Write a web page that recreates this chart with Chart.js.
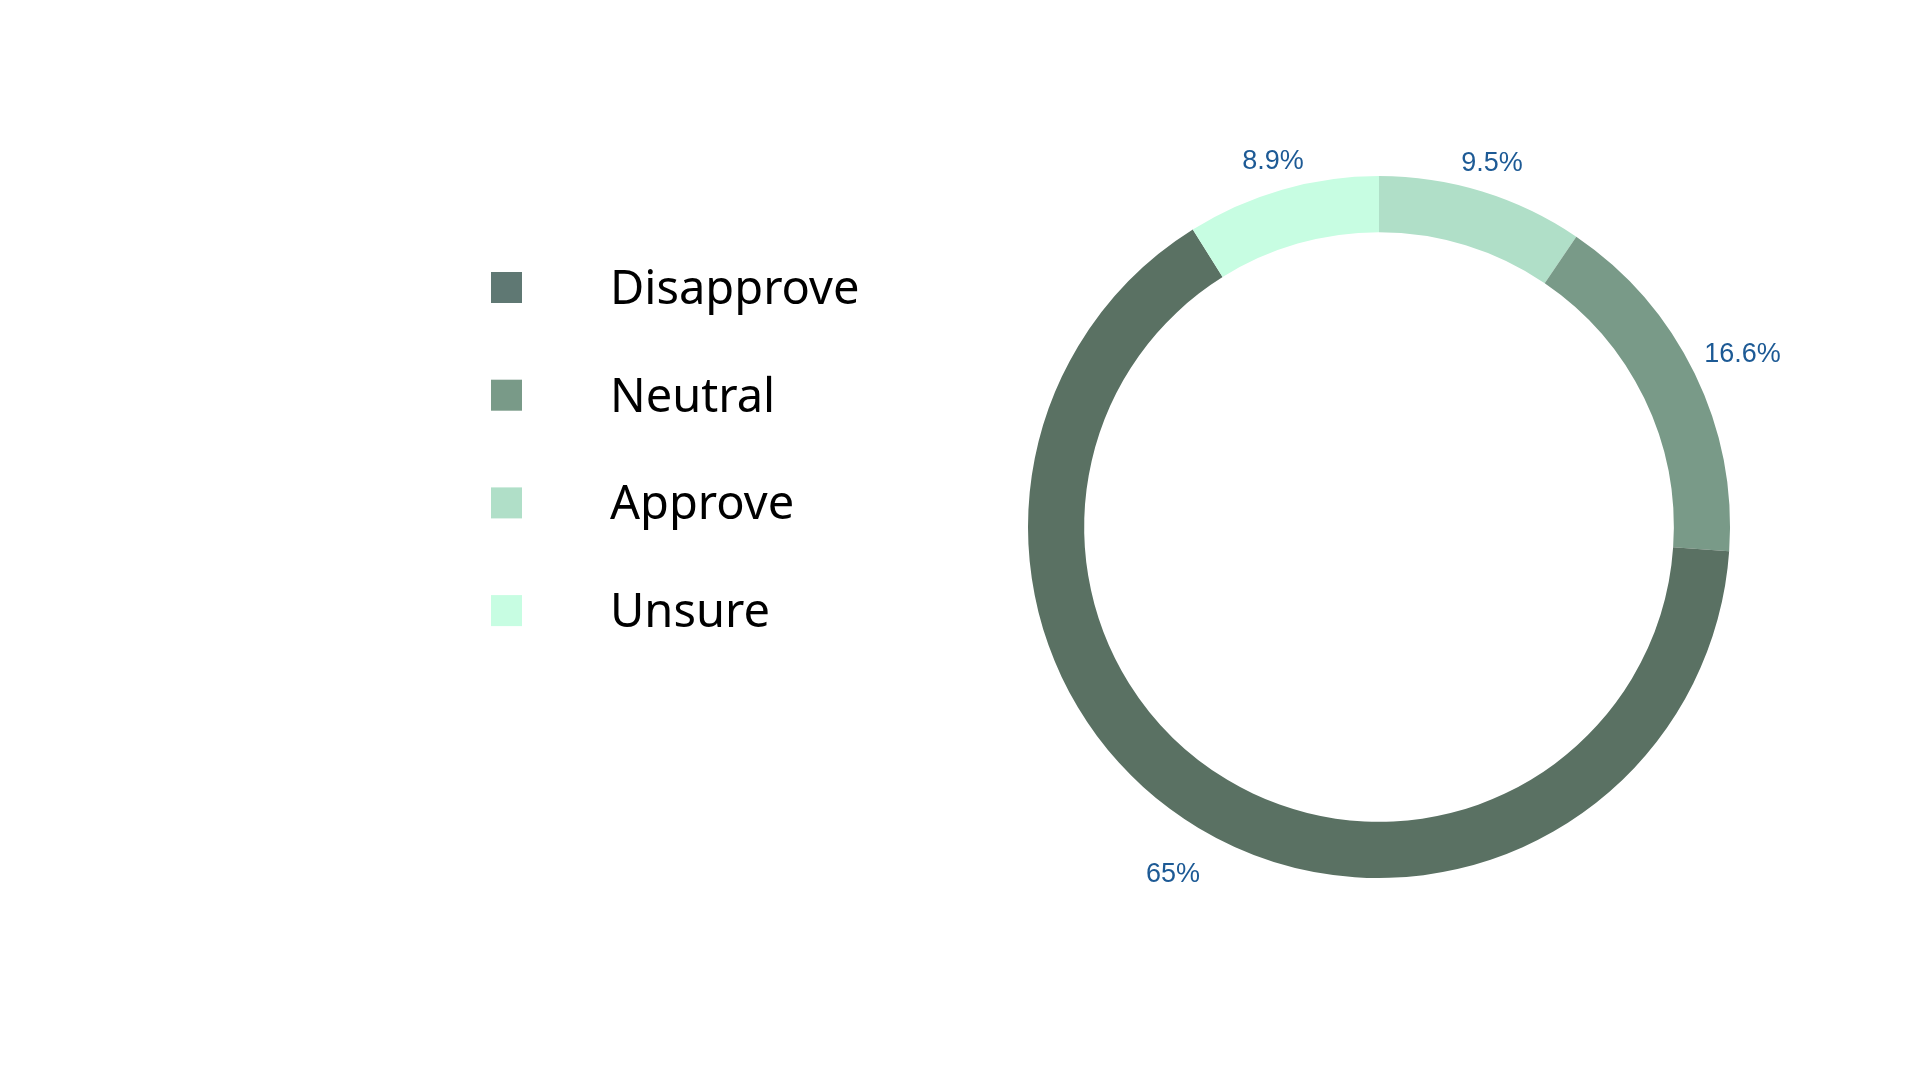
<!DOCTYPE html>
<html>
<head>
<meta charset="utf-8">
<script src="https://cdn.jsdelivr.net/npm/chart.js@4"></script>
<style>
  html, body { margin: 0; padding: 0; background: #fff; }
  #wrap { width: 1920px; height: 1080px; position: relative; }
</style>
</head>
<body>
<div id="wrap"><canvas id="donut"></canvas></div>
<script>
// slices, clockwise from 12 o'clock
const categories = ['Approve', 'Neutral', 'Disapprove', 'Unsure'];
const shares = [9.5, 16.6, 65, 8.9];
const sliceColors = ['#b0dfc8', '#799a88', '#5a7163', '#c7fde2'];
// order the legend lists them in
const legendOrder = ['Disapprove', 'Neutral', 'Approve', 'Unsure'];
const legendColors = { Disapprove: '#5f7873', Neutral: '#799a88', Approve: '#b0dfc8', Unsure: '#c7fde2' };

const labelColor = '#1d5a95';

// percent labels just outside the ring
const pctLabels = {
    id: 'pctLabels',
    afterDatasetsDraw(chart) {
        const ctx = chart.ctx;
        const meta = chart.getDatasetMeta(0);
        ctx.save();
        ctx.font = '27px "Liberation Sans", Arial, sans-serif';
        ctx.fillStyle = labelColor;
        ctx.textAlign = 'center';
        ctx.textBaseline = 'middle';
        meta.data.forEach((arc, i) => {
            const p = arc.getProps(['x', 'y', 'startAngle', 'endAngle', 'outerRadius'], true);
            const mid = (p.startAngle + p.endAngle) / 2;
            const ux = Math.cos(mid), uy = Math.sin(mid);
            const txt = chart.data.datasets[0].data[i] + '%';
            const w = ctx.measureText(txt).width;
            // labels below the centre sit a bit further out
            const r = p.outerRadius + 14 + Math.abs(ux) * w / 2 + Math.abs(uy) * 11 + Math.max(uy, 0) * 14;
            ctx.fillText(txt, p.x + ux * r, p.y + uy * r + 4);
        });
        ctx.restore();
    }
};

// legend on the left with a wide gap between swatch and text
const sideLegend = {
    id: 'sideLegend',
    afterDraw(chart) {
        const ctx = chart.ctx;
        ctx.save();
        ctx.font = '47px "Noto Sans", "Open Sans", sans-serif';
        ctx.textBaseline = 'middle';
        legendOrder.forEach((name, i) => {
            const cy = 287.5 + i * 107.7;
            ctx.fillStyle = legendColors[name];
            ctx.fillRect(491, cy - 15.5, 31, 31);
            ctx.fillStyle = '#000';
            ctx.fillText(name, 610, cy + 3);
        });
        ctx.restore();
    }
};

const donut = document.getElementById('donut');

let donutChart = new Chart(donut, {
    type: 'doughnut',
    data: {
        labels: categories,
        datasets: [{
            data: shares,
            backgroundColor: sliceColors,
            borderWidth: 0
        }]
    },
    options: {
        responsive: true,
        maintainAspectRatio: false,
        animation: false,
        cutout: '84%',
        layout: {
            padding: { left: 1028, right: 190, top: 176, bottom: 202 }
        },
        plugins: {
            legend: { display: false },
            tooltip: { enabled: false }
        }
    },
    plugins: [pctLabels, sideLegend]
})
</script>
</body>
</html>
